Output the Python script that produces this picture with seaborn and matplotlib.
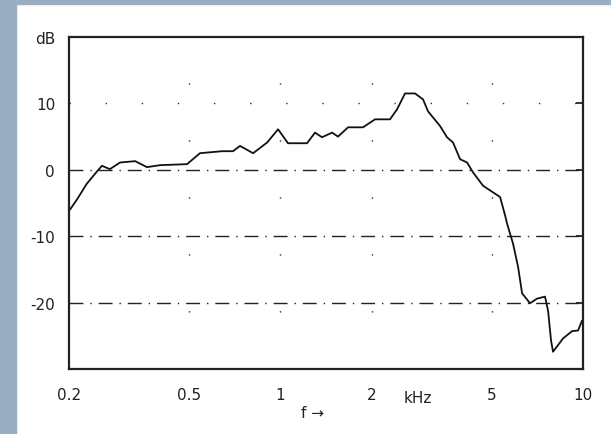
import numpy as np
import pandas as pd
import seaborn as sns
import matplotlib.pyplot as plt
from matplotlib.transforms import blended_transform_factory

# Frequenzgang
freq_khz = [0.2015, 0.213, 0.229, 0.248, 0.257, 0.273, 0.295, 0.331, 0.362, 0.400,
            0.491, 0.542, 0.641, 0.697, 0.735, 0.812, 0.903, 0.982, 1.059, 1.224,
            1.301, 1.372, 1.481, 1.550, 1.673, 1.875, 2.054, 2.302, 2.428, 2.581,
            2.785, 2.960, 3.075, 3.368, 3.553, 3.720, 3.923, 4.138, 4.332, 4.673,
            5.005, 5.32, 5.53, 5.61, 5.87, 6.10, 6.29, 6.68, 7.05, 7.49,
            7.67, 7.84, 7.96, 8.59, 9.20, 9.63, 9.93]
level_db = [-6.0, -4.4, -2.1, -0.2, 0.6, 0.1, 1.1, 1.3, 0.4, 0.7,
            0.85, 2.5, 2.8, 2.8, 3.6, 2.5, 4.1, 6.1, 4.0, 4.0,
            5.6, 4.9, 5.6, 5.0, 6.4, 6.4, 7.6, 7.6, 9.1, 11.5,
            11.5, 10.6, 8.8, 6.6, 4.9, 4.1, 1.6, 1.1, -0.4, -2.4,
            -3.3, -4.1, -6.9, -8.1, -11.1, -14.6, -18.6, -20.1, -19.4, -19.1,
            -21.3, -25.7, -27.4, -25.4, -24.3, -24.2, -22.7]

x_ticks = [0.2, 0.5, 1, 2, 5, 10]
x_labels = ['0.2', '0.5', '1', '2', '5', '10']
y_ticks = [20, 10, 0, -10, -20]
y_labels = ['dB', '10', '0', '-10', '-20']

df = pd.DataFrame({'f': freq_khz, 'db': level_db})

sns.set_style('white')
plt.rcParams['font.family'] = ['DejaVu Sans']

fig = plt.figure(figsize=(6.11, 4.35), dpi=100)
fig.patch.set_facecolor('white')
# blaugrauer Rand links und oben
fig.add_artist(plt.Rectangle((0, 0), 16 / 611, 1, transform=fig.transFigure,
                             color='#9aadc1', zorder=-5))
fig.add_artist(plt.Rectangle((0, 1 - 5 / 435), 1, 5 / 435, transform=fig.transFigure,
                             color='#9aadc1', zorder=-5))

ax = fig.add_axes([69 / 611, 65 / 435, 514 / 611, 332 / 435])
ax.set_facecolor('white')

sns.lineplot(data=df, x='f', y='db', color='#111111', linewidth=1.3, ax=ax)

ax.set_xscale('log')
ax.set_xlim(0.2, 10)
ax.set_ylim(-30, 20)

# Gitter
for y in [0, -10, -20]:
    ax.axhline(y, color='#222222', linewidth=1.0, linestyle=(0, (10, 5, 1, 5)), zorder=1)
ax.axhline(10, color='#333333', linewidth=1.0, linestyle=(0, (1, 25)), zorder=1)
for x in [0.5, 1, 2, 5]:
    ax.axvline(x, color='#333333', linewidth=1.0, linestyle=(0, (1, 40)), zorder=1)

ax.set_xticks(x_ticks)
ax.set_xticklabels(x_labels)
ax.xaxis.set_minor_locator(plt.NullLocator())
ax.set_yticks(y_ticks)
ax.set_yticklabels(y_labels)
ax.tick_params(axis='both', direction='in', length=5, width=1.3, labelsize=11,
               colors='#222222', pad=10, right=True)
ax.tick_params(axis='x', pad=13)

for sp in ax.spines.values():
    sp.set_linewidth(1.6)
    sp.set_color('#222222')

ax.set_xlabel('')
ax.set_ylabel('')

trans = blended_transform_factory(ax.transData, ax.transAxes)
ax.text(1.17, -0.13, 'f \u2192', transform=trans, fontsize=11, ha='left', va='center',
        color='#222222')
ax.text(2.55, -0.085, 'kHz', transform=trans, fontsize=11, ha='left', va='center',
        color='#222222')

plt.savefig('out.png', dpi=100)
